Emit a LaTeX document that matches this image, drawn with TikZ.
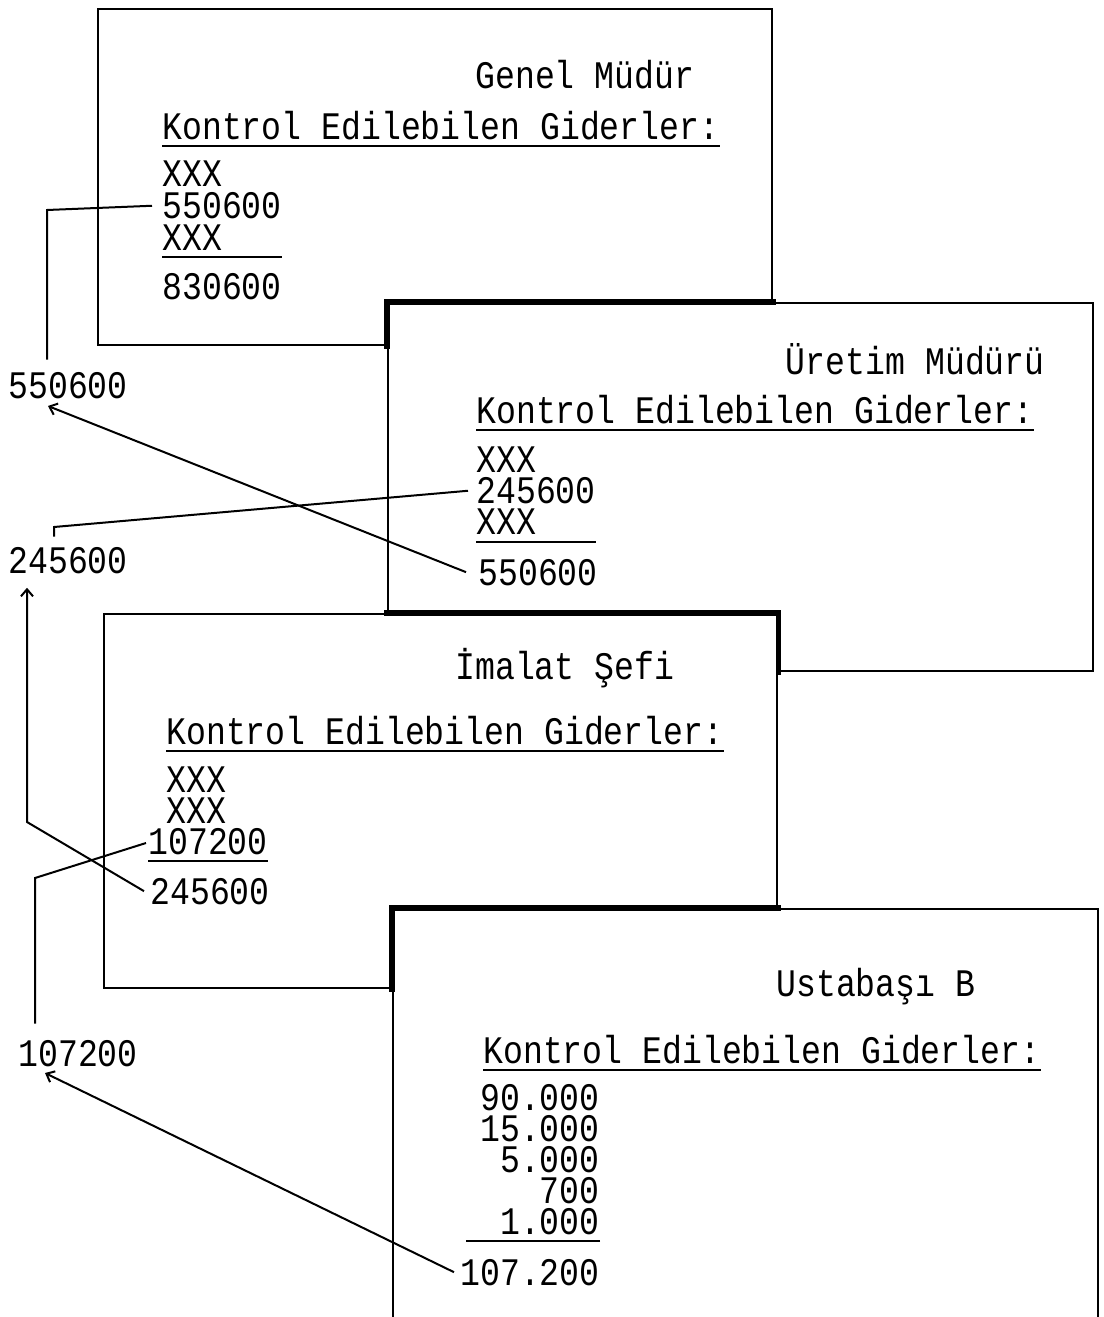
\documentclass[tikz,border=0pt]{standalone}
\usepackage{fontspec}
\newfontfamily\typer[FakeStretch=0.85]{Liberation Mono}
\usetikzlibrary{arrows.meta,fit}

\begin{document}
\begin{tikzpicture}[
		x=0.5pt, y=-0.5pt,
		font=\typer\fontsize{19.5}{22}\selectfont,
		every node/.style={inner sep=0pt},
		card/.style={draw, fill=white, line width=1.1pt, inner sep=0pt},
		heavy/.style={line width=2.6pt, line cap=rect},
		stack/.style={align=left, font=\typer\fontsize{19.5}{15.5}\selectfont},
		uline/.style={line width=1.1pt},
		link/.style={line width=1pt},
		arr/.style={link, -{Straight Barb[length=3.5pt, width=6pt]}},
		]
		\useasboundingbox (0,0) rectangle (1103,1317);

		% Kart 1 — Genel Müdür
		\node[card, fit={(98,9) (772,345)}] (gmbox) {};
		\node[anchor=base west] (gmhead) at (475,88)  {Genel Müdür};
		\node[anchor=base west] (gmkont) at (162,139) {Kontrol Edilebilen Giderler:};
		\node[stack, anchor=south west, font=\typer\fontsize{19.5}{16}\selectfont]
		(gmcol) at (162,251) {XXX\\550600\\XXX};
		\node[anchor=base west] (gm830)  at (162,299) {830600};
		\draw[uline] ([yshift=-3.5pt]gmkont.base west) -- ([yshift=-3.5pt]gmkont.base east);
		\draw[uline] ([yshift=-3pt]gmcol.south west) -- ++(120,0);

		% Kart 2 — Üretim Müdürü
		\node[card, fit={(388,303) (1093,671)}] (urbox) {};
		\draw[heavy] (urbox.west |- gmbox.south) -- (urbox.north west) -- (gmbox.east |- urbox.north);
		\node[anchor=base east] (urhead) at (1045,374) {Üretim Müdürü};
		\node[anchor=base west] (urkont) at (476,423) {Kontrol Edilebilen Giderler:};
		\node[stack, anchor=south west] (urcol) at (476,535) {XXX\\245600\\XXX};
		\node[anchor=base west] (ur550)  at (478,585) {550600};
		\draw[uline] ([yshift=-3.5pt]urkont.base west) -- ([yshift=-3.5pt]urkont.base east);
		\draw[uline] ([yshift=-3.5pt]urcol.south west) -- ++(120,0);

		% Kart 3 — İmalat Şefi
		\node[card, fit={(104,614) (777,988)}] (imbox) {};
		\draw[heavy] (urbox.west |- imbox.north) -- (imbox.north east) -- (imbox.east |- urbox.south);
		\node[anchor=base west] (imhead) at (455,679) {İmalat Şefi};
		\node[anchor=base west] (imkont) at (166,744) {Kontrol Edilebilen Giderler:};
		\node[stack, anchor=south west] (imcol) at (166,855) {XXX\\XXX\\\hspace*{-9pt}107200};
		\node[anchor=base west] (im245)  at (150,904) {245600};
		\draw[uline] ([yshift=-3.5pt]imkont.base west) -- ([yshift=-3.5pt]imkont.base east);
		\draw[uline] ([xshift=-9pt, yshift=-3pt]imcol.south west) -- ++(120,0);

		% Kart 4 — Ustabaşı B
		\node[card, fit={(393,909) (1098,1345)}] (ubbox) {};
		\draw[heavy] (ubbox.west |- imbox.south) -- (ubbox.north west) -- (imbox.east |- ubbox.north);
		\node[anchor=base west] (ubhead) at (776,996)  {Ustabaşı B};
		\node[anchor=base west] (ubkont) at (483,1063) {Kontrol Edilebilen Giderler:};
		\node[stack, align=right, anchor=south east] (ubcol) at (600,1235)
		{90.000\\15.000\\5.000\\700\\1.000};
		\node[anchor=base east] (ub107)  at (600,1285) {107.200};
		\draw[uline] ([yshift=-3.5pt]ubkont.base west) -- ([yshift=-3.5pt]ubkont.base east);
		\draw[uline] ([yshift=-3pt]ubcol.south east) -- ++(-134,0);

		% Dışarıdaki toplamlar
		\node[anchor=base west] (out550) at (8,398)   {550600};
		\node[anchor=base west] (out245) at (8,573)   {245600};
		\node[anchor=base west] (out107) at (18,1066) {107200};

		% Bağlantılar
		\coordinate (gmturn)  at (47,210);
		\coordinate (urtip)   at (48,406);
		\coordinate (urturn)  at (54,527);
		\coordinate (imturn)  at (27,822);
		\coordinate (imbend)  at (35,878);
		\coordinate (ubtip)   at (45,1073);

		\draw[link, shorten >=6pt] ([xshift=-5pt]gmcol.west) -- (gmturn) -- (gmturn |- out550.north);
		\draw[arr] ([xshift=-6pt]ur550.west) -- (urtip);
		\draw[link, shorten >=5pt] ([xshift=-4pt]urcol.west) -- (urturn) -- (urturn |- out245.north);
		\draw[arr, shorten >=7pt] ([xshift=-3pt]im245.west) -- (imturn) -- (imturn |- out245.south);
		\draw[link, shorten >=8pt] ([xshift=-10pt, yshift=6pt]imcol.south west) -- (imbend) -- (imbend |- out107.north);
		\draw[arr] ([xshift=-3pt]ub107.west) -- (ubtip);

	\end{tikzpicture}
\end{document}
